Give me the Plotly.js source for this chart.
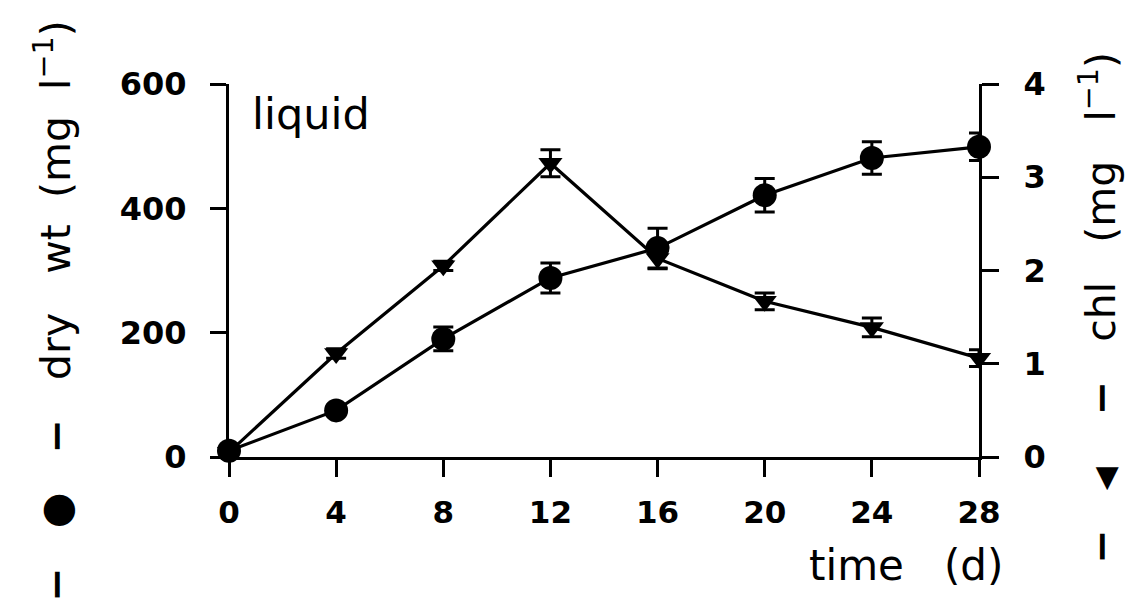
<!DOCTYPE html>
<html>
<head>
<meta charset="utf-8">
<script src="https://cdn.plot.ly/plotly-3.0.1.min.js"></script>
<style>html,body{margin:0;padding:0;background:#fff;}</style>
</head>
<body>
<div id="chart" style="width:1136px;height:602px;"></div>
<script>
// time (d)
const days = [0, 4, 8, 12, 16, 20, 24, 28];
// dry weight (mg l-1), left axis
const dryWt = [10, 75, 190, 288, 336, 421, 481, 499];
const dryWtErr = [8, 5, 19, 24, 32, 27, 26, 22];
// chlorophyll (mg l-1), right axis
const chl = [0.05, 1.11, 2.05, 3.15, 2.13, 1.67, 1.39, 1.06];
const chlErr = [0.05, 0.05, 0.05, 0.145, 0.11, 0.09, 0.1, 0.09];
const xTicks = [0, 4, 8, 12, 16, 20, 24, 28];
const yTicks = [0, 200, 400, 600];
const y2Ticks = [0, 1, 2, 3, 4];

const NB = '\u00A0';
const sp = n => NB.repeat(n);
const dash = '<b>−</b>';

const traces = [
  {
    x: days, y: chl, yaxis: 'y', type: 'scatter', mode: 'lines+markers',
    line: {color: '#000', width: 3.2},
    marker: {symbol: 'triangle-down', size: 21, color: '#000'},
    error_y: {type: 'data', array: chlErr, visible: true, color: '#000', thickness: 3, width: 10},
    cliponaxis: false, showlegend: false
  },
  {
    x: days, y: dryWt, yaxis: 'y2', type: 'scatter', mode: 'lines+markers',
    line: {color: '#000', width: 3.2},
    marker: {symbol: 'circle', size: 24, color: '#000'},
    error_y: {type: 'data', array: dryWtErr, visible: true, color: '#000', thickness: 3, width: 10},
    cliponaxis: false, showlegend: false
  }
];

const xFont = {family: 'DejaVu Sans', size: 31, color: '#000', weight: 'bold'};
const yFont = {family: 'DejaVu Sans', size: 32, color: '#000', weight: 'bold'};
const titleFont = {family: 'DejaVu Sans', size: 41, color: '#000'};

const layout = {
  width: 1136, height: 602,
  margin: {l: 229, r: 157, t: 84, b: 145},
  paper_bgcolor: '#fff', plot_bgcolor: '#fff',
  xaxis: {
    range: [0, 28], tickvals: xTicks, ticktext: xTicks.map(String),
    ticks: 'outside', ticklen: 17, tickwidth: 3, tickcolor: '#000',
    showline: true, linewidth: 3, linecolor: '#000',
    showgrid: false, zeroline: false, tickfont: xFont, ticklabelstandoff: 9
  },
  // chl axis (right)
  yaxis: {
    range: [0, 4], tickvals: y2Ticks, ticktext: y2Ticks.map(String),
    side: 'right',
    ticks: 'outside', ticklen: 17, tickwidth: 3, tickcolor: '#000',
    showline: true, linewidth: 3, linecolor: '#000',
    showgrid: false, zeroline: false, tickfont: yFont, ticklabelstandoff: 18
  },
  // dry weight axis (left)
  yaxis2: {
    range: [0, 600], tickvals: yTicks, ticktext: yTicks.map(String),
    overlaying: 'y', side: 'left',
    ticks: 'outside', ticklen: 16, tickwidth: 3, tickcolor: '#000',
    showline: true, linewidth: 3, linecolor: '#000',
    showgrid: false, zeroline: false, tickfont: yFont, ticklabelstandoff: 17
  },
  annotations: [
    {
      text: 'liquid', xref: 'paper', yref: 'paper', x: 0.028, y: 0.92,
      xanchor: 'left', yanchor: 'middle', showarrow: false,
      font: {family: 'DejaVu Sans', size: 43, color: '#000'}
    },
    {
      text: 'time' + sp(3) + '(d)', xref: 'paper', yref: 'paper', x: 1.034, y: -0.29,
      xanchor: 'right', yanchor: 'middle', showarrow: false,
      font: {family: 'DejaVu Sans', size: 42, color: '#000'}
    },
    {
      text: dash + sp(3) + '●' + sp(3) + dash + sp(3) + 'dry' + sp(3) + 'wt' + sp(2) + '(mg' + sp(2) + 'l<sup>−1</sup>)',
      xref: 'paper', yref: 'paper', x: -0.2347, y: 0.392, textangle: -90,
      xanchor: 'center', yanchor: 'middle', showarrow: false, font: titleFont
    },
    {
      text: dash + sp(3) + '<span style="font-size:30px">◀</span>' + sp(4) + dash + sp(3) + 'chl' + sp(3) + '(mg' + sp(3) + 'l<sup>−1</sup>)',
      xref: 'paper', yref: 'paper', x: 1.1587, y: 0.40, textangle: -90,
      xanchor: 'center', yanchor: 'middle', showarrow: false, font: titleFont
    }
  ]
};

Plotly.newPlot('chart', traces, layout, {staticPlot: true, displayModeBar: false});
</script>
</body>
</html>
